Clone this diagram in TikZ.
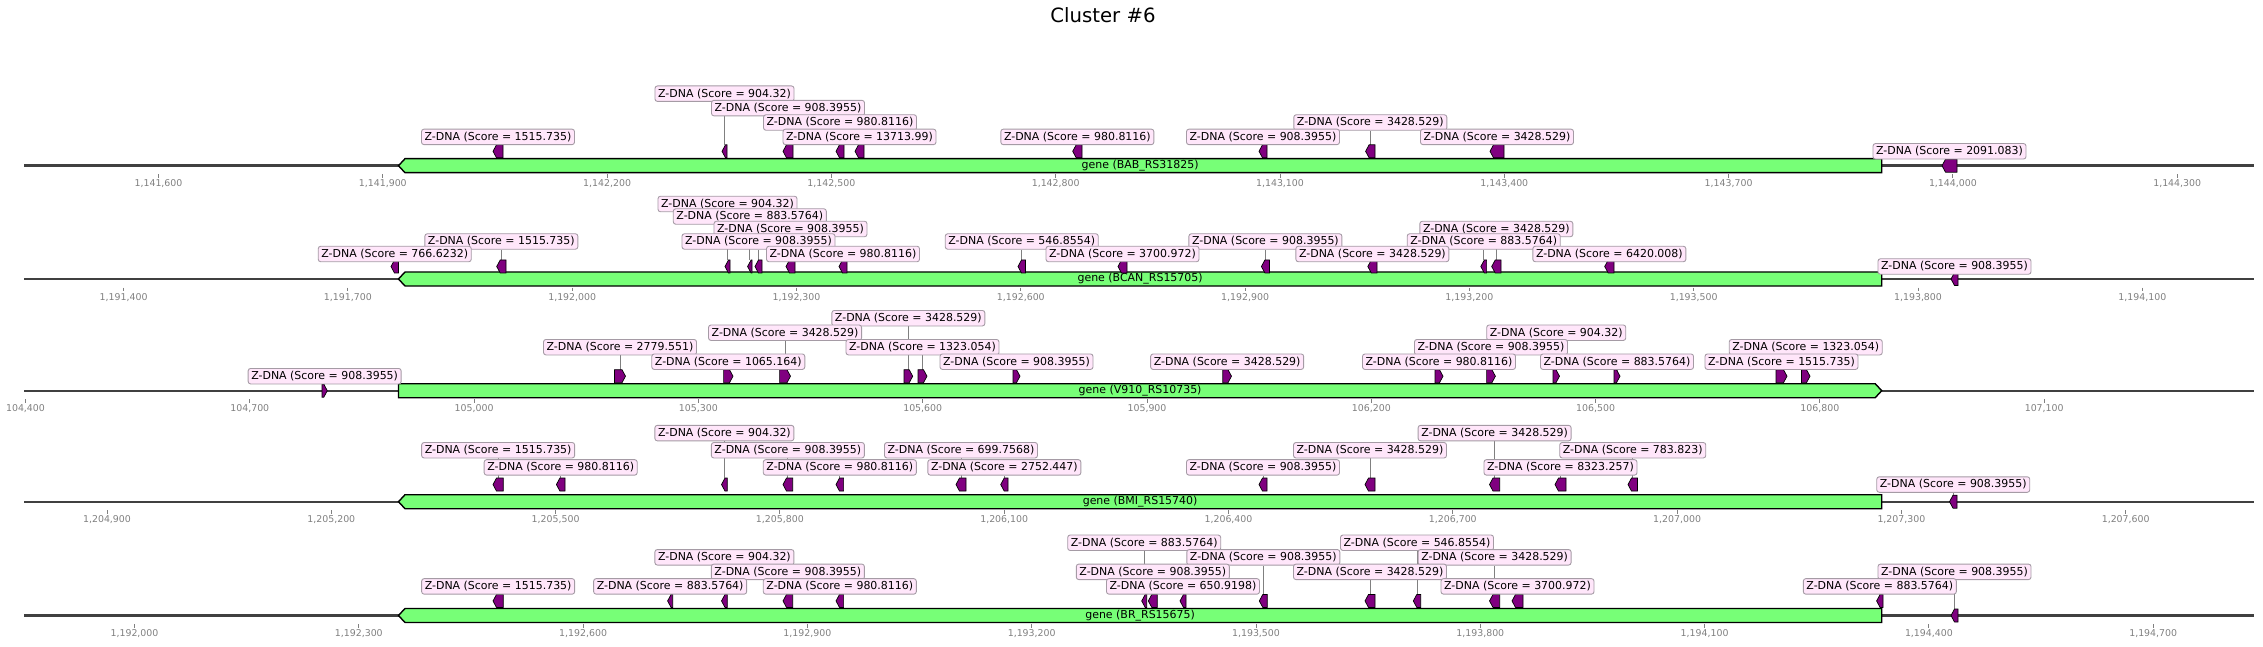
\documentclass[tikz,border=0pt]{standalone}
\usepackage{fontspec}
\setmainfont{DejaVu Sans}
\pgfdeclarelayer{bg}
\pgfsetlayers{bg,main}
\definecolor{genegreen}{RGB}{119,255,119}
\definecolor{featpurple}{RGB}{128,0,128}
\definecolor{labfill}{RGB}{255,230,250}
\definecolor{labborder}{RGB}{165,155,165}
\definecolor{axisgray}{RGB}{64,64,64}
\tikzset{
 axisline/.style={line width=2.4pt, draw=axisgray},
 genebox/.style={fill=genegreen, draw=black, line width=1.4pt},
 genetxt/.style={font=\fontsize{10.97}{12}\selectfont, inner sep=0pt},
 feat/.style={fill=featpurple, draw=black, line width=0.7pt},
 zlab/.style={draw=labborder, fill=labfill, rounded corners=2.5pt, line width=0.9pt, minimum height=15.5pt, inner xsep=3.15pt, inner ysep=0pt, font=\fontsize{10.97}{12}\selectfont},
 leader/.style={draw=gray, line width=0.8pt},
 ticktxt/.style={font=\fontsize{9.4}{10}\selectfont, text=gray, inner sep=0pt, anchor=base},
 tickmark/.style={draw=gray, line width=0.9pt},
 ttl/.style={font=\fontsize{19.7}{22}\selectfont, anchor=base, inner sep=0pt}
}
% feature + label: id, x1, x2, dir(L/R), feature level, label level, score
\newcommand\zd[7]{%
  \pgfmathsetmacro\zfy{\rY-#5*\rD}%
  \pgfmathsetmacro\zly{\rY-#6*\rD}%
  \pgfmathsetmacro\zxm{(#2+#3)/2}%
  \pgfmathsetmacro\ztp{min(3.5,#3-#2)}%
  \if#4L%
    \filldraw[feat] (#2,\zfy) -- ({#2+\ztp},{\zfy-6.5}) -- (#3,{\zfy-6.5}) -- (#3,{\zfy+6.5}) -- ({#2+\ztp},{\zfy+6.5}) -- cycle;%
  \else
    \filldraw[feat] (#3,\zfy) -- ({#3-\ztp},{\zfy-6.5}) -- (#2,{\zfy-6.5}) -- (#2,{\zfy+6.5}) -- ({#3-\ztp},{\zfy+6.5}) -- cycle;%
  \fi
  \coordinate (#1f) at (\zxm,{\zfy-6.5});%
  \node[zlab] (#1) at (\zxm,\zly) {Z-DNA (Score = #7)};%
  \begin{pgfonlayer}{bg}\draw[leader] (#1f) -- (#1.south);\end{pgfonlayer}%
}
% gene: name, dir, text
\newcommand\genebar[3]{%
  \if#2L%
   \filldraw[genebox] (398.5,\rY) -- (405,{\rY-7}) -- (1881.7,{\rY-7}) -- (1881.7,{\rY+7}) -- (405,{\rY+7}) -- cycle;%
  \else
   \filldraw[genebox] (1881.7,\rY) -- (1875.2,{\rY-7}) -- (398.5,{\rY-7}) -- (398.5,{\rY+7}) -- (1875.2,{\rY+7}) -- cycle;%
  \fi
  \node[genetxt] (#1) at (1140.1,\rY) {#3};%
}
% axis: name, first tick x, tick labels
\newcommand\axisrow[3]{%
  \draw[axisline] (24,\rY) -- (2254,\rY);%
  \foreach \t [count=\i from 0] in {#3} {%
    \pgfmathsetmacro\tx{#2+\i*224.3}%
    \draw[tickmark] (\tx,{\rY+8.5}) -- (\tx,{\rY+12});%
    \node[ticktxt] (#1-\i) at (\tx,{\rY+21}) {\t};%
  }%
}
\begin{document}
\begin{tikzpicture}[x=1pt,y=-1pt]
\useasboundingbox (0,0) rectangle (2263,647);
\node[ttl] (title) at (1103,22.7) {Cluster \#6};

% ---------- Row 1 ----------
\def\rY{165.7}\def\rD{14.4}
\axisrow{ta}{158.5}{{1,141,600},{1,141,900},{1,142,200},{1,142,500},{1,142,800},{1,143,100},{1,143,400},{1,143,700},{1,144,000},{1,144,300}}
\genebar{ga}{L}{gene (BAB\_RS31825)}
\zd{a2}{722}{727}{L}{1}{5}{904.32}
\zd{a3}{783}{793}{L}{1}{4}{908.3955}
\zd{a4}{836}{844}{L}{1}{3}{980.8116}
\zd{a8}{1365.6}{1375}{L}{1}{3}{3428.529}
\zd{a1}{493}{503}{L}{1}{2}{1515.735}
\zd{a5}{855}{864}{L}{1}{2}{13713.99}
\zd{a6}{1072.7}{1082}{L}{1}{2}{980.8116}
\zd{a7}{1259}{1267}{L}{1}{2}{908.3955}
\zd{a9}{1490}{1504}{L}{1}{2}{3428.529}
\zd{a10}{1942}{1957}{L}{0}{1}{2091.083}

% ---------- Row 2 ----------
\def\rY{279}\def\rD{12.5}
\axisrow{tb}{123.6}{{1,191,400},{1,191,700},{1,192,000},{1,192,300},{1,192,600},{1,192,900},{1,193,200},{1,193,500},{1,193,800},{1,194,100}}
\genebar{gb}{L}{gene (BCAN\_RS15705)}
\zd{b3}{725}{730}{L}{1}{6}{904.32}
\zd{b4}{747.6}{752}{L}{1}{5}{883.5764}
\zd{b6}{786}{795}{L}{1}{4}{908.3955}
\zd{b14}{1491.7}{1501}{L}{1}{4}{3428.529}
\zd{b2}{496.7}{506}{L}{1}{3}{1515.735}
\zd{b5}{755}{762}{L}{1}{3}{908.3955}
\zd{b8}{1018}{1025.5}{L}{1}{3}{546.8554}
\zd{b11}{1261.4}{1269.4}{L}{1}{3}{908.3955}
\zd{b13}{1480.8}{1486.6}{L}{1}{3}{883.5764}
\zd{b1}{391}{398.5}{L}{1}{2}{766.6232}
\zd{b7}{839}{847}{L}{1}{2}{980.8116}
\zd{b9}{1118}{1127}{L}{1}{2}{3700.972}
\zd{b12}{1367.8}{1377}{L}{1}{2}{3428.529}
\zd{b15}{1604.7}{1614}{L}{1}{2}{6420.008}
\zd{b16}{1951}{1958}{L}{0}{1}{908.3955}

% ---------- Row 3 ----------
\def\rY{390.7}\def\rD{14.5}
\axisrow{tc}{25.5}{{104,400},{104,700},{105,000},{105,300},{105,600},{105,900},{106,200},{106,500},{106,800},{107,100}}
\genebar{gc}{R}{gene (V910\_RS10735)}
\zd{c5}{904}{912.7}{R}{1}{5}{3428.529}
\zd{c4}{779.6}{790.5}{R}{1}{4}{3428.529}
\zd{c11}{1553}{1559.5}{R}{1}{4}{904.32}
\zd{c2}{614.5}{625.5}{R}{1}{3}{2779.551}
\zd{c6}{918}{927}{R}{1}{3}{1323.054}
\zd{c10}{1486.6}{1495.4}{R}{1}{3}{908.3955}
\zd{c14}{1801.5}{1810}{R}{1}{3}{1323.054}
\zd{c3}{723.6}{733}{R}{1}{2}{1065.164}
\zd{c7}{1013}{1020}{R}{1}{2}{908.3955}
\zd{c8}{1222.8}{1231.5}{R}{1}{2}{3428.529}
\zd{c9}{1435}{1443}{R}{1}{2}{980.8116}
\zd{c12}{1614}{1620}{R}{1}{2}{883.5764}
\zd{c13}{1776}{1787}{R}{1}{2}{1515.735}
\zd{c1}{322}{327.3}{R}{0}{1}{908.3955}

% ---------- Row 4 ----------
\def\rY{501.7}\def\rD{17.15}
\axisrow{td}{107}{{1,204,900},{1,205,200},{1,205,500},{1,205,800},{1,206,100},{1,206,400},{1,206,700},{1,207,000},{1,207,300},{1,207,600}}
\genebar{gd}{L}{gene (BMI\_RS15740)}
\zd{d3}{721.5}{727.3}{L}{1}{4}{904.32}
\zd{d10}{1489.5}{1499.7}{L}{1}{4}{3428.529}
\zd{d1}{493}{503.3}{L}{1}{3}{1515.735}
\zd{d4}{783}{792.7}{L}{1}{3}{908.3955}
\zd{d6}{956}{966}{L}{1}{3}{699.7568}
\zd{d9}{1365}{1375}{L}{1}{3}{3428.529}
\zd{d12}{1628}{1637.5}{L}{1}{3}{783.823}
\zd{d2}{556.4}{565}{L}{1}{2}{980.8116}
\zd{d5}{836}{843.6}{L}{1}{2}{980.8116}
\zd{d7}{1000.7}{1008}{L}{1}{2}{2752.447}
\zd{d8}{1259}{1267}{L}{1}{2}{908.3955}
\zd{d11}{1555}{1566}{L}{1}{2}{8323.257}
\zd{d13}{1949.5}{1957}{L}{0}{1}{908.3955}

% ---------- Row 5 ----------
\def\rY{615.5}\def\rD{14.55}
\axisrow{te}{134.5}{{1,192,000},{1,192,300},{1,192,600},{1,192,900},{1,193,200},{1,193,500},{1,193,800},{1,194,100},{1,194,400},{1,194,700}}
\genebar{ge}{L}{gene (BR\_RS15675)}
\zd{e6}{1141.7}{1146.7}{L}{1}{5}{883.5764}
\zd{e11}{1413.3}{1420.7}{L}{1}{5}{546.8554}
\zd{e3}{721.5}{727.3}{L}{1}{4}{904.32}
\zd{e8}{1259.3}{1267.3}{L}{1}{4}{908.3955}
\zd{e12}{1489.5}{1499.7}{L}{1}{4}{3428.529}
\zd{e4}{783}{792.7}{L}{1}{3}{908.3955}
\zd{e7}{1148.3}{1157.3}{L}{1}{3}{908.3955}
\zd{e10}{1365}{1375}{L}{1}{3}{3428.529}
\zd{e15}{1951}{1958}{L}{0}{3}{908.3955}
\zd{e1}{493}{503.3}{L}{1}{2}{1515.735}
\zd{e2}{667.6}{672.7}{L}{1}{2}{883.5764}
\zd{e5}{836}{843.6}{L}{1}{2}{980.8116}
\zd{e9}{1180}{1186}{L}{1}{2}{650.9198}
\zd{e13}{1512}{1523}{L}{1}{2}{3700.972}
\zd{e14}{1876.6}{1883}{L}{1}{2}{883.5764}
\end{tikzpicture}
\end{document}
